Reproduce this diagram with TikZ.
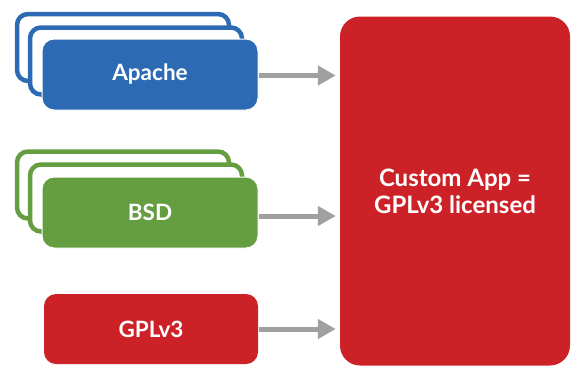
\documentclass[tikz,border=0pt]{standalone}
\usepackage{fontspec}
\setmainfont{Lato}
\usetikzlibrary{arrows.meta}
\definecolor{cblue}{HTML}{2D6AB4}
\definecolor{cgreen}{HTML}{659D41}
\definecolor{cred}{HTML}{CD2128}
\definecolor{cgray}{HTML}{A0A0A0}
\begin{document}
\begin{tikzpicture}[x=1pt,y=-1pt,
  backbox/.style={draw=#1, fill=white, line width=4.5pt, rounded corners=11pt,
    minimum width=212pt, minimum height=67pt, inner sep=0pt},
  frontbox/.style={fill=#1, draw=white, line width=1pt, rounded corners=12pt, text=white,
    minimum width=216pt, minimum height=71pt, inner sep=0pt,
    font=\bfseries\fontsize{22.5}{26}\selectfont},
  arr/.style={draw=cgray, line width=5pt, -{Triangle[length=18pt,width=19pt]}}]
\useasboundingbox (0,0) rectangle (576,365);
% Apache stack
\node[backbox=cblue] (ab1) at (123,47.5) {};
\node[backbox=cblue] (ab2) at (136,61) {};
\node[frontbox=cblue] (apache) at (150,74.5) {Apache};
% BSD stack
\node[backbox=cgreen] (bb1) at (123,185) {};
\node[backbox=cgreen] (bb2) at (136,198) {};
\node[frontbox=cgreen] (bsd) at (150,212.5) {BSD};
% GPLv3
\node[frontbox=cred, draw=none, minimum width=214pt, minimum height=70pt] (gpl) at (151,329) {GPLv3};
% Custom app
\node[fill=cred, rounded corners=20pt, minimum width=230pt, minimum height=349pt,
  inner sep=0pt, text=white, align=center,
  font=\bfseries\fontsize{24}{27}\selectfont] (app) at (455,191) {Custom App =\\GPLv3 licensed};
% arrows
\draw[arr, shorten >=4pt] ([yshift=-1pt]apache.east) -- ([yshift=-1pt]apache.east -| app.west);
\draw[arr, shorten >=4pt] ([yshift=-3.5pt]bsd.east) -- ([yshift=-3.5pt]bsd.east -| app.west);
\draw[arr, shorten >=4pt] (gpl.east) -- (gpl.east -| app.west);
\end{tikzpicture}
\end{document}
